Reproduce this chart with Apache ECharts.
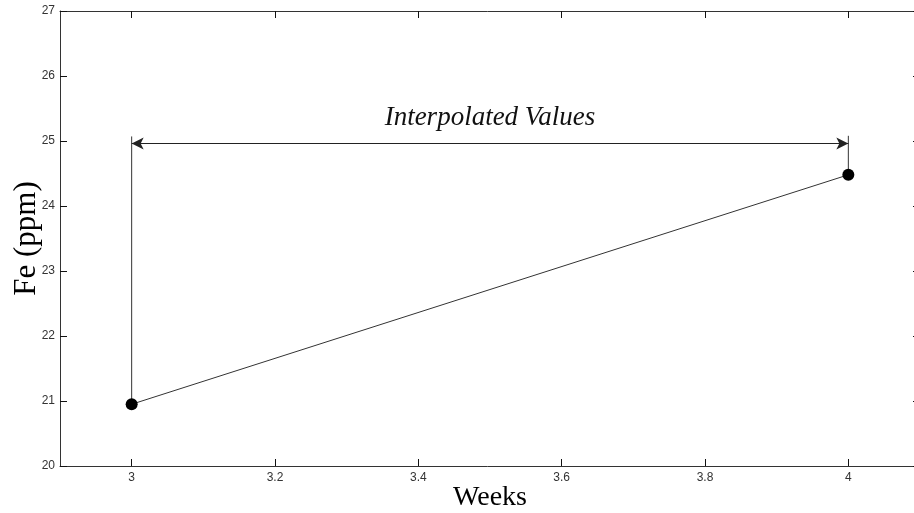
<!DOCTYPE html>
<html>
<head>
<meta charset="utf-8">
<script src="https://cdn.jsdelivr.net/npm/echarts@6/dist/echarts.min.js"></script>
<style>
  html, body { margin: 0; padding: 0; background: #fff; }
  #chart { width: 914px; height: 513px; }
</style>
</head>
<body>
<div id="chart"></div>
<script>
// measured points (week, Fe ppm)
const weeks = [3, 4];
const fe = [20.95, 24.48];
// bracket over the interpolated span
const bracketTop = [25.07, 25.08];
const arrowLevel = 24.96;
const xTicks = [3, 3.2, 3.4, 3.6, 3.8, 4];
const bracketLabel = 'Interpolated Values';

const chart = echarts.init(document.getElementById('chart'));

const baseX = {
  type: 'value',
  min: 2.9,
  max: 4.1,
  splitLine: { show: false },
  axisLine: { lineStyle: { color: '#333', width: 1 } },
  axisTick: { inside: true, length: 7, customValues: xTicks, lineStyle: { color: '#111' } },
};
const baseY = {
  type: 'value',
  min: 20,
  max: 27,
  interval: 1,
  splitLine: { show: false },
  axisLine: { show: true, lineStyle: { color: '#333', width: 1 } },
  axisTick: { inside: true, length: 7, lineStyle: { color: '#111' } },
};

const option = {
  animation: false,
  grid: { left: 60, right: -6, top: 11, bottom: 47, outerBoundsMode: 'none', containLabel: false },
  xAxis: [
    {
      ...baseX,
      position: 'bottom',
      name: 'Weeks',
      nameLocation: 'middle',
      nameGap: 18,
      nameMoveOverlap: false,
      nameTextStyle: { fontFamily: 'Liberation Serif', fontSize: 28, color: '#000' },
      axisLabel: {
        customValues: xTicks,
        color: '#333',
        fontSize: 12,
        fontFamily: 'Liberation Sans',
        margin: 6,
      },
    },
    { ...baseX, position: 'top', axisLabel: { show: false } },
  ],
  yAxis: [
    {
      ...baseY,
      position: 'left',
      name: 'Fe (ppm)',
      nameLocation: 'middle',
      nameGap: 18,
      nameMoveOverlap: false,
      nameTextStyle: { fontFamily: 'Liberation Serif', fontSize: 31, color: '#000' },
      axisLabel: { color: '#333', fontSize: 12, fontFamily: 'Liberation Sans', margin: 5 },
    },
    { ...baseY, position: 'right', axisLabel: { show: false } },
  ],
  series: [
    {
      type: 'line',
      data: weeks.map((w, i) => [w, fe[i]]),
      symbol: 'circle',
      symbolSize: 12,
      itemStyle: { color: '#000' },
      lineStyle: { color: '#333', width: 1 },
      z: 5,
    },
    // vertical connectors up to the bracket
    ...weeks.map((w, i) => ({
      type: 'line',
      data: [[w, fe[i]], [w, bracketTop[i]]],
      symbol: 'none',
      lineStyle: { color: '#333', width: 1 },
    })),
    {
      type: 'line',
      data: [],
      markLine: {
        silent: true,
        symbol: ['arrow', 'arrow'],
        symbolSize: [9, 12],
        lineStyle: { color: '#222', width: 1, type: 'solid' },
        label: {
          show: true,
          position: 'middle',
          formatter: bracketLabel,
          fontFamily: 'Liberation Serif',
          fontStyle: 'italic',
          fontSize: 27,
          color: '#111',
          distance: 12,
        },
        data: [[{ coord: [weeks[0], arrowLevel] }, { coord: [weeks[1], arrowLevel] }]],
      },
    },
  ],
};

chart.setOption(option);
</script>
</body>
</html>
